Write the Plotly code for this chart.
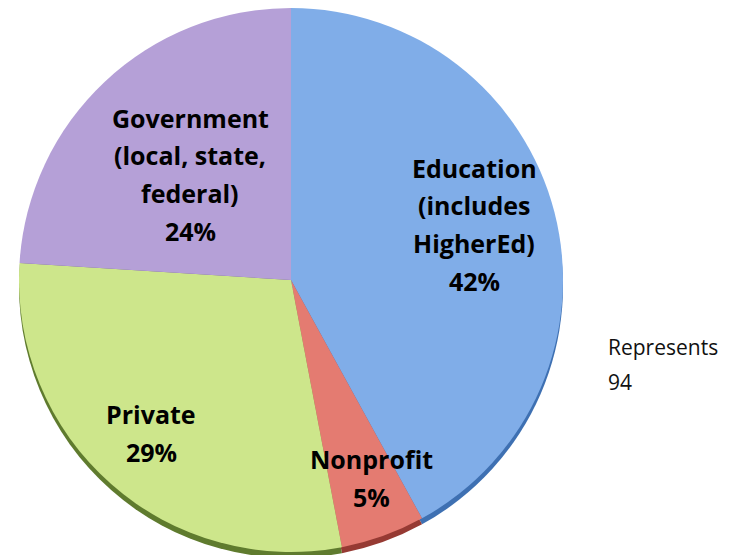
import plotly.graph_objects as go

# data
sectors = ["Education", "Nonprofit", "Private", "Government"]
shares = [42, 5, 29, 24]
label_lines = [
    ["Education", "(includes", "HigherEd)"],
    ["Nonprofit"],
    ["Private"],
    ["Government", "(local, state,", "federal)"],
]
note_lines = ["Represents", "94"]

face_colors = ["#80ade8", "#e47b71", "#cde68b", "#b5a0d7"]
rim_colors = ["#3e70b2", "#963a33", "#5f7b2e", "#6e5992"]

W, H = 733, 555
OFF = 8  # page body margin shifts everything by 8px
# pie geometry in pixels (screen coords)
cx, cy, diam, rim = 291 - OFF, 280 - OFF, 544, 6


def dom(x0, y0, x1, y1):
    return dict(x=[max(x0, 0) / W, min(x1, W) / W],
                y=[max(1 - y1 / H, 0), min(1 - y0 / H, 1)])


fig = go.Figure()
# darker copy slightly lower gives the 3D rim at the bottom
fig.add_trace(go.Pie(
    labels=sectors, values=shares, sort=False, direction="clockwise",
    marker=dict(colors=rim_colors, line=dict(width=0)),
    textinfo="none", hoverinfo="skip", showlegend=False,
    domain=dom(cx - diam / 2, cy - diam / 2 + rim, cx + diam / 2, cy + diam / 2 + rim),
))
fig.add_trace(go.Pie(
    labels=sectors, values=shares, sort=False, direction="clockwise",
    marker=dict(colors=face_colors, line=dict(width=0)),
    textinfo="none", showlegend=False,
    domain=dom(cx - diam / 2, cy - diam / 2, cx + diam / 2, cy + diam / 2),
))

# label anchor: centre x and baseline of first line (pixels)
label_pos = [(474, 177), (371, 468), (151, 423), (190, 127)]
line_gap = 37.5
fs = 25
for lines, share, (px, py) in zip(label_lines, shares, label_pos):
    for i, t in enumerate(lines + [f"{share}%"]):
        base = py + i * line_gap - OFF
        fig.add_annotation(
            x=(px - OFF) / W, y=1 - (base - 0.36 * fs) / H, xref="paper", yref="paper",
            text=f"<b>{t}</b>", showarrow=False, xanchor="center", yanchor="middle",
            font=dict(family="Open Sans", size=fs, color="#000000"),
        )

for i, t in enumerate(note_lines):
    base = 355 + i * 35 - OFF
    fig.add_annotation(
        x=(606 - OFF) / W, y=1 - (base - 0.36 * 21) / H, xref="paper", yref="paper",
        text=t, showarrow=False, xanchor="left", yanchor="middle",
        font=dict(family="Open Sans", size=21, color="#111111"),
    )

fig.update_layout(
    width=W, height=H,
    margin=dict(l=0, r=0, t=0, b=0),
    paper_bgcolor="white", plot_bgcolor="white",
    showlegend=False,
)
fig.write_html("out.html")
